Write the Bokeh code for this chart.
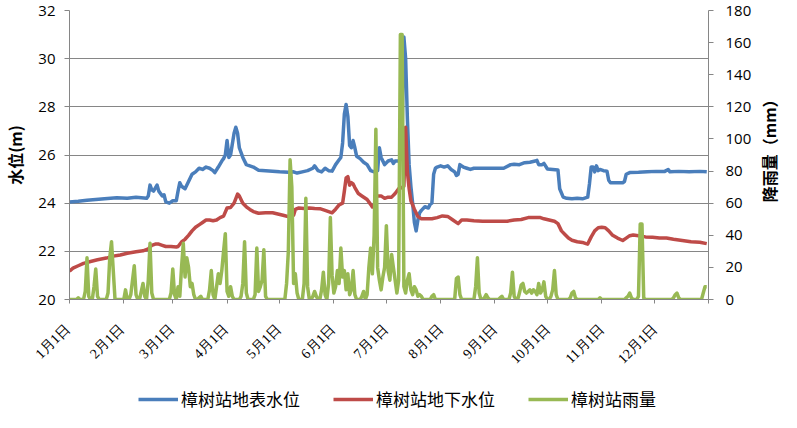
import math
from bokeh.plotting import figure
from bokeh.models import (Range1d, LinearAxis, FixedTicker, Legend, LegendItem,
                          LabelSet, Label, ColumnDataSource)
from bokeh.layouts import column, row
from bokeh.embed import file_html
from bokeh.resources import INLINE

# ---------------- data ----------------
month_ticks = [0, 31, 59, 90, 120, 151, 181, 212, 243, 273, 304, 334, 365]
month_label_days = [0, 31, 59, 90, 120, 151, 181, 212, 243, 273, 304, 334]
month_labels = ["1月1日", "2月1日", "3月1日", "4月1日", "5月1日", "6月1日",
                "7月1日", "8月1日", "9月1日", "10月1日", "11月1日", "12月1日"]
level_ticks = [20, 22, 24, 26, 28, 30, 32]
rain_ticks = [0, 20, 40, 60, 80, 100, 120, 140, 160, 180]

series_names = ["樟树站地表水位", "樟树站地下水位", "樟树站雨量"]
left_title = "水位(m)"
right_title = "降雨量（mm）"

# surface water level (m): day of year, value
surface_day = [0, 5, 10, 15, 20, 27, 33, 38, 44, 45, 46, 47, 48, 50, 51, 53, 54, 55, 57, 59,
               61, 62, 63, 64, 66, 68, 70, 72, 74, 76, 78, 80, 82, 83, 85, 87, 88, 89, 90, 91,
               92, 94, 95, 96, 97, 99, 101, 103, 105, 108, 112, 116, 120, 125, 128, 130, 133, 136, 139, 140,
               142, 144, 146, 148, 150, 152, 154, 155, 156, 157, 158, 159, 160, 161, 162, 163, 164, 166, 168, 170,
               172, 174, 176, 177, 178, 180, 182, 184, 185, 186, 188, 189, 190, 191, 192, 193, 194, 195, 196, 197,
               198, 199, 200, 201, 203, 205, 206, 207, 208, 209, 210, 212, 214, 216, 218, 220, 221, 222, 223, 224,
               225, 227, 229, 231, 235, 240, 244, 248, 252, 254, 257, 260, 263, 266, 267, 268, 270, 271, 273, 276,
               279, 280, 282, 284, 287, 290, 293, 296, 297, 298, 299, 300, 301, 302, 303, 305, 307, 308, 309, 312,
               316, 317, 318, 320, 325, 330, 335, 340, 342, 343, 348, 354, 360, 364]
surface_lvl = [24.05, 24.08, 24.12, 24.15, 24.18, 24.22, 24.2, 24.25, 24.2, 24.3, 24.75, 24.55, 24.5, 24.75, 24.5, 24.3, 24.35, 24.05, 24.0, 24.1,
               24.1, 24.5, 24.85, 24.7, 24.6, 24.9, 25.2, 25.3, 25.45, 25.4, 25.5, 25.45, 25.35, 25.27, 25.5, 25.75, 25.85, 26.0, 26.6, 25.9,
               26.0, 26.9, 27.15, 26.9, 26.3, 25.9, 25.6, 25.55, 25.5, 25.37, 25.35, 25.33, 25.3, 25.28, 25.3, 25.25, 25.3, 25.35, 25.45, 25.55,
               25.35, 25.3, 25.45, 25.35, 25.33, 25.6, 25.8, 25.9, 26.5, 27.7, 28.1, 27.6, 26.4, 26.3, 26.6, 26.3, 25.95, 25.85, 25.7, 25.6,
               25.35, 25.3, 25.35, 26.3, 25.9, 25.6, 25.75, 25.8, 25.65, 25.75, 25.75, 25.8, 27.0, 30.9, 30.0, 27.5, 25.6, 24.7, 24.0, 23.2,
               22.85, 23.3, 23.6, 23.7, 23.85, 23.8, 23.95, 24.0, 25.2, 25.45, 25.5, 25.55, 25.5, 25.55, 25.4, 25.3, 25.15, 25.2, 25.6, 25.55,
               25.5, 25.45, 25.4, 25.45, 25.45, 25.45, 25.45, 25.45, 25.6, 25.62, 25.6, 25.68, 25.7, 25.75, 25.78, 25.6, 25.6, 25.65, 25.42, 25.4,
               25.38, 24.6, 24.25, 24.2, 24.18, 24.2, 24.18, 24.25, 24.8, 25.5, 25.5, 25.3, 25.55, 25.35, 25.4, 25.35, 25.33, 24.95, 24.85, 24.85,
               24.85, 24.9, 25.2, 25.27, 25.28, 25.3, 25.32, 25.32, 25.4, 25.3, 25.32, 25.3, 25.32, 25.3]

# groundwater level (m): day of year, value
ground_day = [0, 2, 5, 8, 12, 16, 21, 25, 29, 33, 38, 42, 45, 47, 49, 51, 53, 55, 58, 61,
              62, 64, 66, 68, 70, 72, 74, 76, 78, 80, 82, 84, 86, 88, 90, 92, 94, 96, 97, 99,
              101, 103, 105, 108, 112, 116, 119, 122, 126, 128, 129, 131, 134, 137, 140, 143, 146, 148, 150, 152,
              154, 156, 157, 158, 159, 160, 161, 162, 163, 165, 167, 170, 172, 173, 174, 175, 176, 178, 179, 180,
              182, 184, 186, 188, 190, 191, 192, 193, 194, 195, 197, 199, 201, 204, 207, 210, 213, 216, 219, 222,
              224, 227, 231, 236, 240, 245, 250, 254, 258, 262, 266, 269, 271, 274, 277, 279, 281, 283, 285, 287,
              290, 293, 295, 296, 298, 300, 302, 304, 306, 308, 310, 313, 316, 318, 320, 322, 325, 329, 333, 337,
              341, 345, 350, 355, 360, 364]
ground_lvl = [21.18, 21.3, 21.4, 21.5, 21.58, 21.65, 21.72, 21.8, 21.85, 21.92, 21.98, 22.02, 22.1, 22.25, 22.3, 22.3, 22.25, 22.2, 22.2, 22.18,
              22.2, 22.39, 22.5, 22.66, 22.85, 23.0, 23.1, 23.2, 23.3, 23.3, 23.27, 23.3, 23.4, 23.46, 23.8, 23.82, 24.0, 24.38, 24.3, 24.0,
              23.85, 23.74, 23.65, 23.58, 23.6, 23.6, 23.55, 23.5, 23.42, 23.5, 23.74, 23.8, 23.78, 23.8, 23.78, 23.77, 23.7, 23.65, 23.6, 23.75,
              23.93, 24.0, 24.5, 25.05, 25.1, 24.75, 24.85, 24.8, 24.65, 24.4, 24.3, 24.15, 23.95, 23.84, 23.9, 24.25, 24.3, 24.3, 24.25, 24.2,
              24.25, 24.25, 24.4, 24.6, 24.65, 24.7, 27.15, 25.3, 24.6, 24.1, 23.75, 23.45, 23.35, 23.35, 23.35, 23.4, 23.47, 23.45, 23.3, 23.15,
              23.3, 23.3, 23.27, 23.25, 23.25, 23.25, 23.25, 23.3, 23.32, 23.4, 23.4, 23.4, 23.35, 23.3, 23.25, 23.15, 22.85, 22.7, 22.55, 22.46,
              22.4, 22.37, 22.32, 22.3, 22.6, 22.85, 22.98, 23.0, 22.98, 22.85, 22.68, 22.55, 22.45, 22.55, 22.65, 22.68, 22.65, 22.6, 22.58, 22.55,
              22.55, 22.5, 22.45, 22.4, 22.38, 22.32]

# daily rainfall (mm), one value per day
rain_jan = [0, 0, 0, 0, 0, 1, 0, 0, 0, 5, 26, 2, 0, 0, 8, 19, 2, 0, 0, 0, 0, 0, 4, 26, 36, 18, 0, 0, 0, 0, 0]
rain_feb = [0, 6, 0, 0, 3, 12, 21, 3, 0, 0, 5, 10, 2, 0, 12, 35, 4, 0, 0, 0, 0, 0, 0, 0, 0, 0, 0, 4]
rain_mar = [19, 3, 0, 8, 2, 20, 35, 14, 26, 20, 8, 10, 3, 0, 0, 1, 2, 0, 0, 0, 0, 6, 18, 3, 0, 8, 16, 10, 18, 30, 41]
rain_apr = [5, 2, 8, 2, 0, 0, 0, 0, 2, 10, 36, 4, 0, 0, 0, 0, 3, 32, 5, 8, 12, 31, 2, 0, 0, 0, 0, 0, 0, 0]
rain_may = [0, 0, 0, 0, 10, 30, 87, 70, 10, 16, 4, 0, 0, 0, 10, 63, 8, 0, 0, 2, 5, 2, 0, 0, 6, 17, 3, 0, 10, 51, 15]
rain_jun = [4, 8, 18, 10, 32, 14, 18, 6, 16, 3, 6, 18, 3, 0, 0, 0, 2, 5, 0, 3, 20, 32, 16, 40, 106, 20, 12, 6, 14, 20]
rain_jul = [46, 18, 12, 28, 20, 12, 4, 12, 165, 165, 8, 4, 12, 16, 6, 3, 8, 6, 2, 3, 2, 0, 0, 0, 0, 0, 2, 3, 0, 0, 0]
rain_aug = [0, 0, 0, 0, 0, 0, 0, 0, 0, 13, 14, 3, 0, 0, 0, 0, 0, 0, 0, 0, 8, 26, 4, 0, 0, 1, 3, 1, 0, 0, 0]
rain_sep = [0, 0, 0, 1, 2, 0, 0, 0, 0, 4, 17, 2, 0, 0, 4, 9, 10, 5, 4, 5, 6, 4, 6, 5, 3, 10, 4, 6, 11, 2]
rain_oct = [0, 0, 2, 6, 18, 3, 0, 0, 0, 0, 0, 0, 0, 1, 4, 5, 1, 0, 0, 0, 0, 0, 0, 0, 0, 0, 0, 0, 0, 0, 1]
rain_nov = [0, 0, 0, 0, 0, 0, 0, 0, 0, 0, 0, 0, 0, 0, 1, 2, 4, 1, 0, 0, 0, 2, 47, 47, 1, 0, 0, 0, 0, 0]
rain_dec = [0, 0, 0, 0, 0, 0, 0, 0, 0, 0, 0, 1, 3, 4, 1, 0, 0, 0, 0, 0, 0, 0, 0, 0, 0, 0, 0, 0, 4, 8, 8]

rain_mm = (rain_jan + rain_feb + rain_mar + rain_apr + rain_may + rain_jun +
           rain_jul + rain_aug + rain_sep + rain_oct + rain_nov + rain_dec)
rain_day = list(range(len(rain_mm)))

# ---------------- styling / layout constants ----------------
BLUE = "#4a7ebb"
RED = "#be4b48"
GREEN = "#98b954"
GRID = "#868686"
CJK = "Noto Sans CJK SC"
NUM = "Open Sans"

TOTAL_W, TOTAL_H = 781, 412
FRAME_W, FRAME_H = 642, 289
BORDER_L, BORDER_R, BORDER_T, BORDER_B = 66, 48, 10, 20
MAIN_W = BORDER_L + FRAME_W + BORDER_R
MAIN_H = BORDER_T + FRAME_H + BORDER_B
SIDE_W = TOTAL_W - MAIN_W
BOTTOM_H = TOTAL_H - MAIN_H
X0, X1 = 0, 365
DAYS_PER_PX = (X1 - X0) / FRAME_W
NAN = float("nan")


def blank(fig):
    fig.outline_line_color = None
    fig.xgrid.visible = False
    fig.ygrid.visible = False
    fig.background_fill_color = "white"
    fig.border_fill_color = "white"


# ---------------- main chart ----------------
p = figure(width=MAIN_W, height=MAIN_H, output_backend="svg", toolbar_location=None,
           x_range=Range1d(X0, X1), y_range=Range1d(20, 32),
           min_border_left=BORDER_L, min_border_right=BORDER_R,
           min_border_top=BORDER_T, min_border_bottom=BORDER_B)
p.extra_y_ranges = {"rain": Range1d(0, 180)}
p.outline_line_color = None

xa = p.xaxis[0]
xa.ticker = FixedTicker(ticks=month_ticks)
xa.major_label_overrides = {t: "" for t in month_ticks}
xa.major_label_text_font_size = "1px"
xa.major_label_standoff = 0
xa.axis_line_color = GRID
xa.major_tick_line_color = GRID
xa.major_tick_out = 4
xa.major_tick_in = 0
xa.minor_tick_line_color = None

ya = p.yaxis[0]
ya.ticker = FixedTicker(ticks=level_ticks)
ya.axis_label = left_title
ya.axis_label_text_font = CJK
ya.axis_label_text_font_size = "16px"
ya.axis_label_text_font_style = "bold"
ya.axis_label_text_color = "black"
ya.axis_label_standoff = 8
ya.major_label_text_font = NUM
ya.major_label_text_font_size = "15px"
ya.major_label_text_color = "black"
ya.major_label_standoff = 9
ya.axis_line_color = GRID
ya.major_tick_line_color = GRID
ya.major_tick_out = 5
ya.major_tick_in = 0
ya.minor_tick_line_color = None

ra = LinearAxis(y_range_name="rain", ticker=FixedTicker(ticks=rain_ticks))
ra.major_label_text_font = NUM
ra.major_label_text_font_size = "15px"
ra.major_label_text_color = "black"
ra.major_label_standoff = 12
ra.axis_line_color = GRID
ra.major_tick_line_color = GRID
ra.major_tick_out = 5
ra.major_tick_in = 0
ra.minor_tick_line_color = None
p.add_layout(ra, "right")

p.xgrid.visible = False
p.ygrid.ticker = FixedTicker(ticks=level_ticks)
p.ygrid.grid_line_color = GRID
p.ygrid.grid_line_width = 1

r1 = p.line(surface_day, surface_lvl, line_color=BLUE, line_width=3.5, line_join="round")
r2 = p.line(ground_day, ground_lvl, line_color=RED, line_width=3.5, line_join="round")
r3 = p.line(rain_day, rain_mm, line_color=GREEN, line_width=3.5, line_join="round", y_range_name="rain")

# ---------------- right strip: rain axis title (reads bottom-to-top) ----------------
side = figure(width=SIDE_W, height=MAIN_H, output_backend="svg", toolbar_location=None,
              x_range=Range1d(0, SIDE_W), y_range=Range1d(0, MAIN_H),
              x_axis_type=None, y_axis_type=None,
              min_border_left=0, min_border_right=0, min_border_top=0, min_border_bottom=0)
blank(side)
side.add_layout(Label(x=SIDE_W / 2, y=MAIN_H - BORDER_T - FRAME_H / 2 + 4, text=right_title,
                      angle=math.pi / 2, text_align="center", text_baseline="middle",
                      text_font=CJK, text_font_size="16px", text_font_style="bold",
                      text_color="black"))

# ---------------- bottom strip: month labels and legend ----------------
bottom = figure(width=TOTAL_W, height=BOTTOM_H, output_backend="svg", toolbar_location=None,
                x_range=Range1d(X0 - BORDER_L * DAYS_PER_PX, X0 + (TOTAL_W - BORDER_L) * DAYS_PER_PX),
                y_range=Range1d(0, BOTTOM_H),
                x_axis_type=None, y_axis_type=None,
                min_border_left=0, min_border_right=0, min_border_top=0, min_border_bottom=0)
blank(bottom)

month_src = ColumnDataSource(dict(x=month_label_days, text=month_labels))
bottom.add_layout(LabelSet(x="x", y=BOTTOM_H - (27 - BORDER_B), text="text", source=month_src,
                           angle=math.pi / 4, text_align="right", text_baseline="middle",
                           x_offset=1, text_font=CJK, text_font_size="14px", text_color="black"))

# legend swatches (renderers with no visible points, styled like the series)
d1 = bottom.line([NAN], [NAN], line_color=BLUE, line_width=3.5)
d2 = bottom.line([NAN], [NAN], line_color=RED, line_width=3.5)
d3 = bottom.line([NAN], [NAN], line_color=GREEN, line_width=3.5)
legend = Legend(items=[LegendItem(label=series_names[0], renderers=[d1]),
                       LegendItem(label=series_names[1], renderers=[d2]),
                       LegendItem(label=series_names[2], renderers=[d3])],
                orientation="horizontal", location=(138, 1))
legend.label_text_font = CJK
legend.label_text_font_size = "17px"
legend.label_text_color = "black"
legend.glyph_width = 40
legend.label_standoff = 3
legend.spacing = 33
legend.padding = 0
legend.margin = 0
legend.border_line_color = None
legend.background_fill_alpha = 0
bottom.add_layout(legend)

layout = column(row(p, side), bottom)
open("out.html", "w").write(file_html(layout, INLINE))
